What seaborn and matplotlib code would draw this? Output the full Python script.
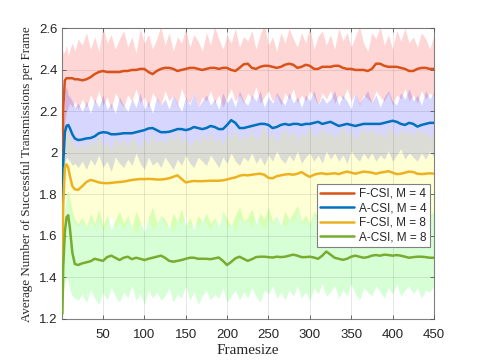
import matplotlib
matplotlib.use("Agg")
import matplotlib.pyplot as plt
import numpy as np
import pandas as pd
import seaborn as sns

# ---------------- data ----------------
frames = [1, 2, 4, 6, 8, 10, 13, 16, 20] + list(range(25, 451, 5))

series_names = ["F-CSI, M = 4", "A-CSI, M = 4", "F-CSI, M = 8", "A-CSI, M = 8"]

f4_mean = [1.95, 2.22, 2.35, 2.36, 2.36, 2.36, 2.36, 2.355, 2.355,
           2.35, 2.355, 2.365, 2.38, 2.39, 2.395, 2.39, 2.39, 2.39, 2.39,
           2.395, 2.395, 2.40, 2.40, 2.405, 2.405, 2.39, 2.38, 2.395, 2.405,
           2.41, 2.41, 2.405, 2.395, 2.40, 2.405, 2.41, 2.41, 2.405, 2.40,
           2.405, 2.41, 2.41, 2.405, 2.41, 2.41, 2.40, 2.395, 2.41, 2.427,
           2.43, 2.41, 2.405, 2.415, 2.42, 2.42, 2.415, 2.41, 2.415, 2.425,
           2.43, 2.425, 2.41, 2.415, 2.425, 2.42, 2.405, 2.405, 2.415, 2.415,
           2.415, 2.42, 2.42, 2.41, 2.405, 2.405, 2.40, 2.40, 2.40, 2.395,
           2.405, 2.43, 2.43, 2.42, 2.415, 2.415, 2.415, 2.41, 2.405, 2.395,
           2.395, 2.405, 2.41, 2.41, 2.405, 2.405]
a4_mean = [1.75, 1.95, 2.10, 2.13, 2.135, 2.12, 2.09, 2.07, 2.062,
           2.065, 2.07, 2.072, 2.08, 2.095, 2.10, 2.098, 2.09, 2.09, 2.092,
           2.095, 2.095, 2.095, 2.10, 2.105, 2.11, 2.118, 2.12, 2.11, 2.10,
           2.10, 2.102, 2.108, 2.115, 2.115, 2.11, 2.115, 2.125, 2.12, 2.115,
           2.12, 2.13, 2.125, 2.115, 2.115, 2.135, 2.158, 2.145, 2.12, 2.12,
           2.125, 2.13, 2.135, 2.14, 2.14, 2.135, 2.12, 2.125, 2.135, 2.14,
           2.135, 2.14, 2.14, 2.135, 2.14, 2.14, 2.145, 2.15, 2.14, 2.145,
           2.15, 2.14, 2.13, 2.135, 2.14, 2.135, 2.13, 2.135, 2.14, 2.14,
           2.14, 2.14, 2.14, 2.145, 2.15, 2.155, 2.15, 2.14, 2.135, 2.145,
           2.14, 2.127, 2.135, 2.14, 2.145, 2.145]
f8_mean = [1.44, 1.75, 1.93, 1.945, 1.93, 1.89, 1.84, 1.825, 1.822,
           1.84, 1.86, 1.87, 1.865, 1.858, 1.855, 1.854, 1.856, 1.858, 1.86,
           1.862, 1.866, 1.87, 1.872, 1.874, 1.874, 1.875, 1.874, 1.872, 1.872,
           1.874, 1.878, 1.885, 1.892, 1.875, 1.858, 1.862, 1.865, 1.864, 1.864,
           1.865, 1.866, 1.866, 1.866, 1.868, 1.872, 1.878, 1.882, 1.89, 1.894,
           1.892, 1.895, 1.898, 1.90, 1.895, 1.88, 1.878, 1.888, 1.892, 1.896,
           1.898, 1.895, 1.90, 1.908, 1.895, 1.885, 1.895, 1.90, 1.902, 1.898,
           1.90, 1.902, 1.898, 1.905, 1.91, 1.905, 1.90, 1.905, 1.91, 1.908,
           1.905, 1.90, 1.905, 1.908, 1.912, 1.905, 1.898, 1.90, 1.905, 1.91,
           1.908, 1.90, 1.898, 1.90, 1.902, 1.90]
a8_mean = [1.225, 1.45, 1.62, 1.69, 1.70, 1.64, 1.52, 1.465, 1.46,
           1.468, 1.473, 1.478, 1.49, 1.485, 1.48, 1.498, 1.505, 1.495, 1.484,
           1.495, 1.50, 1.488, 1.495, 1.49, 1.484, 1.49, 1.495, 1.50, 1.505,
           1.495, 1.48, 1.476, 1.48, 1.484, 1.49, 1.495, 1.495, 1.49, 1.49,
           1.49, 1.488, 1.492, 1.496, 1.48, 1.46, 1.475, 1.492, 1.50, 1.49,
           1.48, 1.488, 1.498, 1.50, 1.50, 1.498, 1.496, 1.50, 1.498, 1.50,
           1.505, 1.51, 1.505, 1.498, 1.498, 1.50, 1.496, 1.49, 1.505, 1.525,
           1.51, 1.495, 1.49, 1.485, 1.49, 1.50, 1.505, 1.50, 1.495, 1.498,
           1.505, 1.508, 1.505, 1.51, 1.508, 1.505, 1.508, 1.505, 1.50, 1.495,
           1.498, 1.50, 1.50, 1.498, 1.495, 1.495]

f4_upper = [2.50, 2.48, 2.49, 2.52, 2.47, 2.50, 2.53, 2.49, 2.55,
            2.52, 2.58, 2.50, 2.56, 2.49, 2.61, 2.53, 2.57, 2.50, 2.55,
            2.59, 2.51, 2.56, 2.48, 2.60, 2.53, 2.57, 2.50, 2.55, 2.61,
            2.52, 2.58, 2.49, 2.56, 2.53, 2.60, 2.51, 2.57, 2.54, 2.49,
            2.58, 2.52, 2.61, 2.55, 2.50, 2.57, 2.53, 2.60, 2.51, 2.56,
            2.54, 2.59, 2.50, 2.57, 2.62, 2.52, 2.56, 2.49, 2.58, 2.53,
            2.60, 2.55, 2.51, 2.58, 2.53, 2.61, 2.50, 2.56, 2.59, 2.52,
            2.57, 2.50, 2.60, 2.54, 2.58, 2.51, 2.56, 2.61, 2.53, 2.49,
            2.58, 2.55, 2.61, 2.52, 2.57, 2.50, 2.59, 2.54, 2.60, 2.53,
            2.56, 2.51, 2.58, 2.55, 2.50, 2.57]
f4_lower = [1.98, 2.05, 2.15, 2.20, 2.22, 2.24, 2.22, 2.25, 2.21,
            2.26, 2.22, 2.28, 2.24, 2.30, 2.23, 2.27, 2.21, 2.29, 2.25,
            2.22, 2.28, 2.25, 2.31, 2.24, 2.27, 2.22, 2.29, 2.26, 2.23,
            2.30, 2.25, 2.28, 2.23, 2.31, 2.26, 2.24, 2.29, 2.22, 2.27,
            2.25, 2.30, 2.24, 2.28, 2.22, 2.27, 2.31, 2.25, 2.28, 2.24,
            2.29, 2.26, 2.32, 2.24, 2.27, 2.30, 2.25, 2.28, 2.23, 2.29,
            2.26, 2.31, 2.24, 2.28, 2.25, 2.30, 2.27, 2.23, 2.29, 2.26,
            2.30, 2.24, 2.28, 2.26, 2.31, 2.25, 2.29, 2.23, 2.28, 2.26,
            2.24, 2.30, 2.27, 2.25, 2.29, 2.23, 2.28, 2.26, 2.31, 2.25,
            2.28, 2.24, 2.30, 2.26, 2.29, 2.27]
a4_upper = [1.85, 2.10, 2.30, 2.32, 2.28, 2.27, 2.25, 2.22, 2.24,
            2.20, 2.25, 2.19, 2.26, 2.22, 2.28, 2.21, 2.24, 2.19, 2.27,
            2.23, 2.20, 2.26, 2.22, 2.29, 2.21, 2.25, 2.19, 2.27, 2.23,
            2.26, 2.21, 2.28, 2.24, 2.20, 2.27, 2.23, 2.29, 2.22, 2.25,
            2.28, 2.23, 2.26, 2.21, 2.29, 2.24, 2.27, 2.22, 2.30, 2.25,
            2.23, 2.28, 2.25, 2.30, 2.22, 2.27, 2.24, 2.29, 2.26, 2.23,
            2.29, 2.24, 2.27, 2.22, 2.28, 2.25, 2.30, 2.23, 2.27, 2.24,
            2.26, 2.30, 2.23, 2.28, 2.25, 2.21, 2.29, 2.24, 2.27, 2.30,
            2.24, 2.28, 2.22, 2.27, 2.30, 2.25, 2.23, 2.29, 2.26, 2.31,
            2.25, 2.28, 2.23, 2.30, 2.26, 2.29]
a4_lower = [1.70, 1.85, 1.95, 1.98, 1.97, 1.96, 1.94, 1.95, 1.93,
            1.96, 1.92, 1.97, 1.94, 1.99, 1.93, 1.96, 1.91, 1.98, 1.95,
            1.93, 1.97, 1.94, 2.00, 1.95, 1.92, 1.98, 1.94, 1.96, 1.93,
            1.98, 1.95, 1.92, 1.97, 1.94, 1.99, 1.95, 1.93, 1.98, 1.96,
            1.94, 1.99, 1.96, 1.93, 1.98, 1.95, 2.00, 1.96, 1.94, 1.98,
            1.96, 2.00, 1.95, 1.98, 1.94, 1.99, 1.96, 2.01, 1.97, 1.95,
            1.99, 1.96, 2.01, 1.95, 1.98, 2.00, 1.96, 1.99, 1.95, 2.01,
            1.97, 2.00, 1.96, 1.99, 1.95, 2.01, 1.98, 1.96, 2.00, 1.97,
            2.00, 1.96, 1.99, 1.97, 2.01, 1.96, 1.99, 2.02, 1.97, 2.00,
            1.98, 1.96, 2.00, 1.97, 2.01, 1.98]
f8_upper = [1.55, 1.90, 2.08, 2.12, 2.10, 2.08, 2.05, 2.04, 2.02,
            2.05, 2.02, 2.07, 2.04, 2.09, 2.03, 2.06, 2.01, 2.08, 2.04,
            2.07, 2.03, 2.09, 2.05, 2.02, 2.08, 2.04, 2.10, 2.05, 2.07,
            2.04, 2.09, 2.06, 2.11, 2.05, 2.08, 2.03, 2.07, 2.05, 2.09,
            2.06, 2.10, 2.05, 2.08, 2.04, 2.09, 2.07, 2.12, 2.06, 2.09,
            2.07, 2.11, 2.06, 2.09, 2.13, 2.07, 2.10, 2.05, 2.09, 2.12,
            2.08, 2.11, 2.06, 2.10, 2.08, 2.13, 2.07, 2.10, 2.12, 2.08,
            2.11, 2.07, 2.10, 2.13, 2.08, 2.11, 2.06, 2.10, 2.12, 2.09,
            2.12, 2.08, 2.11, 2.07, 2.13, 2.10, 2.08, 2.12, 2.09, 2.11,
            2.08, 2.12, 2.09, 2.11, 2.07, 2.10]
f8_lower = [1.35, 1.60, 1.78, 1.80, 1.76, 1.72, 1.68, 1.66, 1.65,
            1.67, 1.63, 1.68, 1.64, 1.69, 1.62, 1.66, 1.70, 1.64, 1.67,
            1.63, 1.68, 1.65, 1.61, 1.67, 1.64, 1.69, 1.63, 1.66, 1.70,
            1.64, 1.67, 1.62, 1.68, 1.65, 1.70, 1.63, 1.67, 1.64, 1.69,
            1.66, 1.63, 1.68, 1.65, 1.71, 1.64, 1.67, 1.62, 1.69, 1.66,
            1.68, 1.64, 1.70, 1.66, 1.63, 1.69, 1.65, 1.71, 1.67, 1.64,
            1.69, 1.66, 1.72, 1.65, 1.68, 1.64, 1.70, 1.67, 1.71, 1.66,
            1.68, 1.72, 1.65, 1.69, 1.66, 1.71, 1.67, 1.64, 1.70, 1.68,
            1.66, 1.71, 1.68, 1.72, 1.65, 1.69, 1.73, 1.67, 1.70, 1.66,
            1.69, 1.72, 1.67, 1.70, 1.68, 1.71]
a8_upper = [1.30, 1.55, 1.75, 1.80, 1.82, 1.78, 1.72, 1.68, 1.66,
            1.69, 1.64, 1.71, 1.66, 1.73, 1.65, 1.70, 1.63, 1.68, 1.72,
            1.66, 1.70, 1.64, 1.72, 1.67, 1.62, 1.69, 1.74, 1.66, 1.70,
            1.68, 1.64, 1.71, 1.67, 1.73, 1.65, 1.69, 1.63, 1.70, 1.67,
            1.71, 1.66, 1.69, 1.64, 1.72, 1.68, 1.65, 1.70, 1.74, 1.67,
            1.69, 1.73, 1.66, 1.71, 1.68, 1.74, 1.67, 1.70, 1.65, 1.72,
            1.68, 1.71, 1.75, 1.67, 1.70, 1.66, 1.72, 1.69, 1.74, 1.68,
            1.71, 1.67, 1.73, 1.70, 1.66, 1.72, 1.69, 1.75, 1.68, 1.71,
            1.74, 1.69, 1.72, 1.67, 1.71, 1.75, 1.68, 1.72, 1.70, 1.73,
            1.69, 1.72, 1.68, 1.74, 1.70, 1.72]
a8_lower = [1.15, 1.30, 1.38, 1.40, 1.38, 1.34, 1.31, 1.30, 1.29,
            1.32, 1.28, 1.34, 1.30, 1.27, 1.33, 1.29, 1.35, 1.31, 1.28,
            1.33, 1.30, 1.36, 1.29, 1.32, 1.27, 1.34, 1.30, 1.33, 1.29,
            1.31, 1.35, 1.28, 1.32, 1.30, 1.36, 1.29, 1.33, 1.27, 1.31,
            1.34, 1.29, 1.32, 1.30, 1.35, 1.28, 1.31, 1.34, 1.29, 1.33,
            1.30, 1.35, 1.31, 1.28, 1.34, 1.32, 1.36, 1.30, 1.33, 1.29,
            1.34, 1.31, 1.36, 1.30, 1.33, 1.29, 1.35, 1.32, 1.37, 1.31,
            1.33, 1.36, 1.30, 1.34, 1.31, 1.37, 1.32, 1.29, 1.35, 1.33,
            1.31, 1.36, 1.33, 1.30, 1.35, 1.32, 1.37, 1.31, 1.34, 1.36,
            1.32, 1.35, 1.30, 1.34, 1.33, 1.36]

x_ticks = [50, 100, 150, 200, 250, 300, 350, 400, 450]
y_ticks = [1.2, 1.4, 1.6, 1.8, 2.0, 2.2, 2.4, 2.6]
y_ticklabels = ["1.2", "1.4", "1.6", "1.8", "2", "2.2", "2.4", "2.6"]

# ---------------- style ----------------
sns.set_theme(style="white")
plt.rcParams["font.family"] = ["Liberation Sans", "DejaVu Sans"]

line_colors = ["#D95319", "#0072BD", "#EDB120", "#77AC30"]
band_colors = ["#FF0000", "#0000FF", "#FFFF00", "#00FF00"]
means = [f4_mean, a4_mean, f8_mean, a8_mean]
uppers = [f4_upper, a4_upper, f8_upper, a8_upper]
lowers = [f4_lower, a4_lower, f8_lower, a8_lower]

fig = plt.figure(figsize=(4.8, 3.6), dpi=100)
ax = fig.add_axes([0.13, 0.114, 0.774, 0.807])

for lo, hi, c in zip(lowers, uppers, band_colors):
    ax.fill_between(frames, lo, hi, color=c, alpha=0.16, linewidth=0, zorder=1)

df = pd.concat([
    pd.DataFrame({"Framesize": frames, "value": m, "series": name})
    for m, name in zip(means, series_names)
], ignore_index=True)

sns.lineplot(data=df, x="Framesize", y="value", hue="series",
             hue_order=series_names, palette=line_colors, linewidth=1.8,
             estimator=None, sort=False, ax=ax, zorder=3)

ax.set_xlim(1, 450)
ax.set_ylim(1.2, 2.6)
ax.set_xticks(x_ticks)
ax.set_xticklabels([str(t) for t in x_ticks])
ax.set_yticks(y_ticks)
ax.set_yticklabels(y_ticklabels)
ax.tick_params(axis="both", direction="in", length=3, width=0.6,
               colors="#262626", labelsize=9.5, top=True, right=True,
               bottom=True, left=True)
ax.tick_params(axis="x", pad=7.5)
ax.tick_params(axis="y", pad=3.5)
ax.tick_params(axis="both", color="#555555")
ax.grid(True, color="#262626", alpha=0.13, linewidth=0.6)
ax.set_axisbelow(False)
for s in ax.spines.values():
    s.set_color("#808080")
    s.set_linewidth(0.8)

ax.set_xlabel("Framesize", family=["Liberation Serif", "DejaVu Serif"],
              fontsize=11, color="#262626", labelpad=2)
ax.set_ylabel("Average Number of Successful Transmissions per Frame",
              family=["Liberation Serif", "DejaVu Serif"], fontsize=9.4,
              color="#262626", labelpad=4)

leg = ax.legend(loc="upper right", bbox_to_anchor=(0.99, 0.463),
                borderaxespad=0, fontsize=8.5, frameon=True, fancybox=False,
                edgecolor="#808080", framealpha=1, handlelength=2.9,
                handletextpad=0.4, labelspacing=0.2, borderpad=0.3)
leg.get_frame().set_linewidth(0.8)
for t in leg.get_texts():
    t.set_color("#262626")
for h in leg.get_lines():
    h.set_linewidth(1.8)

fig.savefig("out.png", dpi=100)
